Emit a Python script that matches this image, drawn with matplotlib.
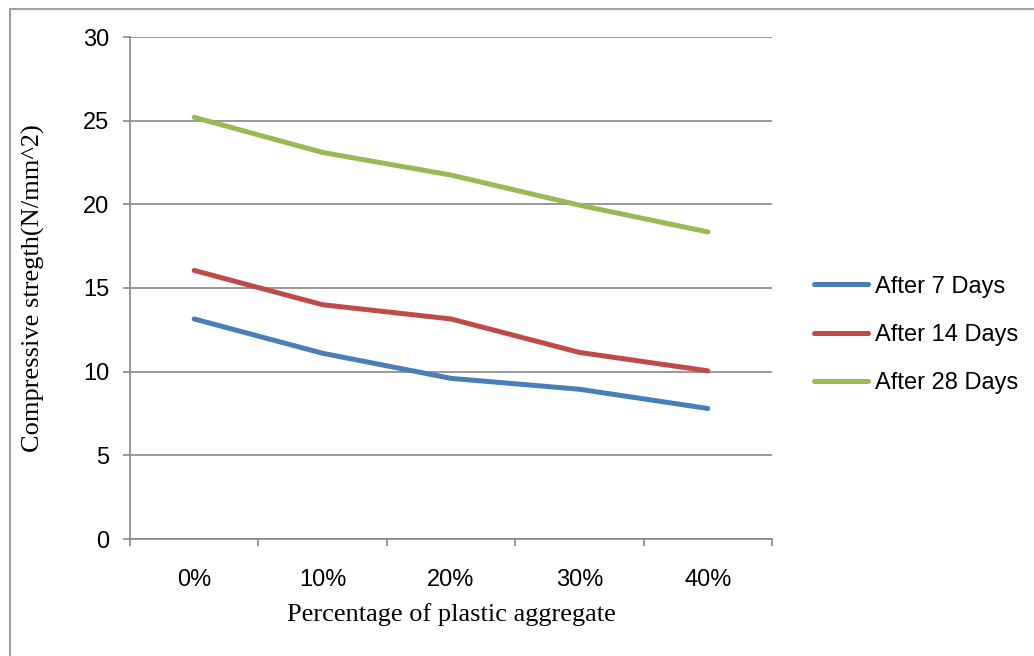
import matplotlib.pyplot as plt
from matplotlib.patches import Rectangle
import numpy as np

# data
categories = ['0%', '10%', '20%', '30%', '40%']
after_7 = [13.15, 11.1, 9.6, 8.95, 7.8]
after_14 = [16.05, 14.0, 13.15, 11.15, 10.05]
after_28 = [25.2, 23.1, 21.75, 19.95, 18.35]

series_names = ['After 7 Days', 'After 14 Days', 'After 28 Days']
series_colors = ['#4A7EBB', '#BE4B48', '#98B954']

grid_col = '#878787'
W, H = 1034, 656

fig = plt.figure(figsize=(W / 100, H / 100), dpi=100)
ax = fig.add_axes([130 / W, 1 - 539 / H, 642 / W, 502 / H])

x = np.arange(len(categories))
for vals, name, col in zip([after_7, after_14, after_28], series_names, series_colors):
    ax.plot(x, vals, color=col, lw=3.6, solid_capstyle='round', label=name, zorder=3)

ax.set_xlim(-0.5, len(categories) - 0.5)
ax.set_ylim(0, 30)
ax.set_yticks(np.arange(0, 31, 5))
ax.yaxis.grid(True, color=grid_col, lw=1.2)
ax.set_axisbelow(True)

# category boundaries as major ticks, labels on minor ticks
ax.set_xticks(np.arange(-0.5, len(categories), 1.0))
ax.set_xticklabels([])
ax.set_xticks(x, minor=True)
ax.set_xticklabels(categories, minor=True)
ax.tick_params(axis='x', which='major', length=5, width=1.2, color=grid_col, direction='out')
ax.tick_params(axis='x', which='minor', length=0, pad=21.5)
ax.tick_params(axis='y', length=5, width=1.2, color=grid_col, direction='out', pad=10)

for lab in ax.get_xticklabels(minor=True) + ax.get_yticklabels():
    lab.set_fontfamily('Liberation Sans')
    lab.set_fontsize(17)

for s in ['top', 'right']:
    ax.spines[s].set_visible(False)
for s in ['left', 'bottom']:
    ax.spines[s].set_color(grid_col)
    ax.spines[s].set_linewidth(1.2)

ax.set_xlabel('Percentage of plastic aggregate', fontfamily='Liberation Serif', fontsize=19)
ax.set_ylabel('Compressive stregth(N/mm^2)', fontfamily='Liberation Serif', fontsize=19)
ax.xaxis.set_label_coords(0.5, (539 - 615) / 502)
ax.xaxis.label.set_va('center')
ax.yaxis.set_label_coords((33 - 130) / 642, 0.5)
ax.yaxis.label.set_va('center')

leg = ax.legend(loc='center left', bbox_to_anchor=(1.047, 1 - (335 - 37) / 502), frameon=False,
                prop={'family': 'Liberation Sans', 'size': 17},
                handlelength=2.3, handletextpad=0.3, labelspacing=1.12, borderpad=0)

# outer chart border
fig.patches.append(Rectangle((10 / W, -0.1), 2, 1.1 - 9 / H, transform=fig.transFigure,
                             fill=False, ec='#A0A0A0', lw=1.5))

fig.savefig('out.png', dpi=100)
